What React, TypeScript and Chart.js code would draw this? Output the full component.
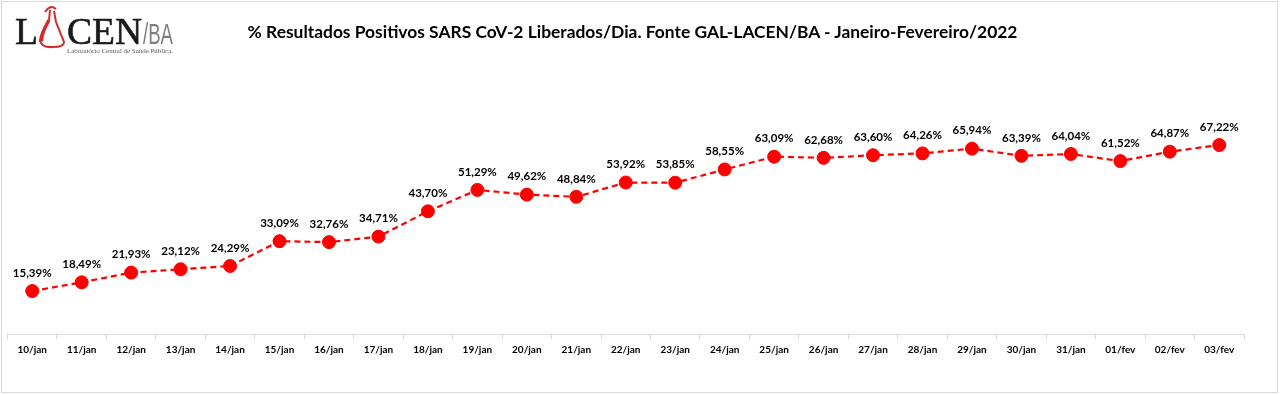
import React, { useEffect, useRef } from "react";
import { Chart, registerables } from "chart.js";

Chart.register(...registerables);

const categories = [
  "10/jan", "11/jan", "12/jan", "13/jan", "14/jan", "15/jan", "16/jan", "17/jan",
  "18/jan", "19/jan", "20/jan", "21/jan", "22/jan", "23/jan", "24/jan", "25/jan",
  "26/jan", "27/jan", "28/jan", "29/jan", "30/jan", "31/jan", "01/fev", "02/fev", "03/fev",
];

const positivePct = [
  15.39, 18.49, 21.93, 23.12, 24.29, 33.09, 32.76, 34.71,
  43.7, 51.29, 49.62, 48.84, 53.92, 53.85, 58.55, 63.09,
  62.68, 63.6, 64.26, 65.94, 63.39, 64.04, 61.52, 64.87, 67.22,
];

const titleText =
  "% Resultados Positivos SARS CoV-2 Liberados/Dia. Fonte GAL-LACEN/BA - Janeiro-Fevereiro/2022";

const fmt = (v: number) => v.toFixed(2).replace(".", ",") + "%";

const labelPlugin = {
  id: "pointLabels",
  afterDatasetsDraw(chart: any) {
    const ctx = chart.ctx;
    const meta = chart.getDatasetMeta(0);
    ctx.save();
    ctx.font = "bold 11.5px Lato, 'Open Sans', sans-serif";
    ctx.fillStyle = "#000";
    ctx.textAlign = "center";
    ctx.textBaseline = "middle";
    meta.data.forEach((pt: any, i: number) => {
      ctx.fillText(fmt(positivePct[i]), pt.x, pt.y - 18);
    });
    ctx.restore();
  },
};

export default function App() {
  const canvasRef = useRef<HTMLCanvasElement | null>(null);

  useEffect(() => {
    document.body.style.margin = "0";
    const c = canvasRef.current;
    if (!c) return;
    const chart = new Chart(c, {
      type: "line",
      data: {
        labels: categories,
        datasets: [
          {
            data: positivePct,
            borderColor: "#ff0000",
            borderWidth: 2.2,
            borderDash: [6, 4],
            pointRadius: 6.5,
            pointBackgroundColor: "#ff0000",
            pointBorderColor: "#ff0000",
            pointBorderWidth: 1,
            tension: 0,
          },
        ],
      },
      options: {
        responsive: false,
        animation: false,
        devicePixelRatio: 1,
        layout: { padding: { left: 6, right: 36, top: 52.7, bottom: 35.6 } },
        plugins: {
          legend: { display: false },
          tooltip: { enabled: false },
          title: { display: false },
        },
        scales: {
          x: {
            offset: true,
            grid: {
              display: true,
              offset: true,
              drawOnChartArea: false,
              drawTicks: true,
              tickLength: 5,
              color: "#d9d9d9",
            },
            border: { display: true, color: "#d9d9d9", width: 1 },
            ticks: {
              autoSkip: false,
              maxRotation: 0,
              padding: 4,
              color: "#000",
              font: { family: "Lato, 'Open Sans', sans-serif", weight: "bold", size: 10 },
            },
          },
          y: { display: false, min: 0, max: 100 },
        },
      },
      plugins: [labelPlugin],
    });
    return () => chart.destroy();
  }, []);

  return (
    <div style={{ position: "fixed", left: 0, top: 0, width: 1280, height: 395, background: "#fff", overflow: "hidden" }}>
      <div
        style={{
          position: "absolute",
          left: 1,
          top: 1,
          width: 1275,
          height: 390,
          border: "1px solid #d9d9d9",
        }}
      />
      <canvas ref={canvasRef} width={1280} height={395} style={{ position: "absolute", left: 0, top: 0, width: 1280, height: 395 }} />
      <svg width={200} height={65} style={{ position: "absolute", left: 0, top: 0 }}>
        <text x={15} y={44} fontFamily="'Liberation Serif', serif" fontSize={38} fill="#1a1a1a" stroke="#1a1a1a" strokeWidth={0.6} textLength={23} lengthAdjust="spacingAndGlyphs">L</text>
        <path d="M45 12 Q50 4 56 9" stroke="#d22b2b" strokeWidth={2} fill="none" />
        <path d="M50 10 L49 20 Q40 34 40 41 Q42 48 53 47 Q64 47 64 42 L56 22 L54 11" stroke="#d22b2b" strokeWidth={2} fill="none" />
        <path d="M49 20 Q41 34 41.5 41.5" stroke="#d22b2b" strokeWidth={3.5} fill="none" />
        <text x={67} y={44} fontFamily="'Liberation Serif', serif" fontSize={38} fill="#1a1a1a" stroke="#1a1a1a" strokeWidth={0.6} textLength={75} lengthAdjust="spacingAndGlyphs">CEN</text>
        <text x={143} y={44} fontFamily="'Liberation Sans', sans-serif" fontSize={29} fill="#7f7f7f" textLength={30} lengthAdjust="spacingAndGlyphs">/BA</text>
        <text x={67} y={53} fontFamily="'Liberation Serif', serif" fontSize={7} fill="#555" textLength={106} lengthAdjust="spacingAndGlyphs">Laboratório Central de Saúde Pública.</text>
      </svg>
      <div
        style={{
          position: "absolute",
          left: 0,
          width: 1265,
          top: 21,
          textAlign: "center",
          fontFamily: "Lato, 'Open Sans', sans-serif",
          fontWeight: "bold",
          fontSize: 17.4,
          color: "#000",
          whiteSpace: "nowrap",
          lineHeight: "22px",
        }}
      >
        {titleText}
      </div>
    </div>
  );
}
